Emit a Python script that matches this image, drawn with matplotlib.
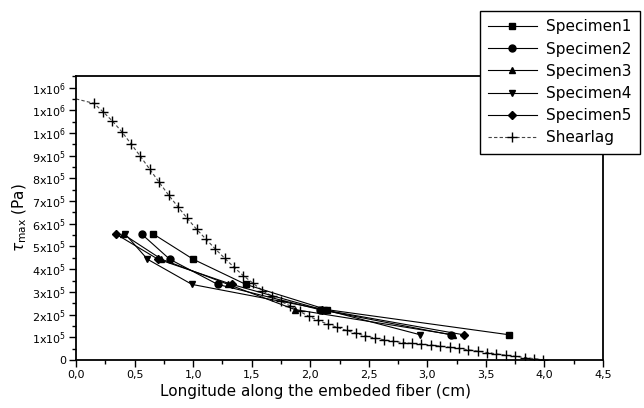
import matplotlib
matplotlib.use("Agg")
import matplotlib.pyplot as plt
from matplotlib.ticker import MultipleLocator, FixedLocator

# ---------------- data (stress in units of 1e5 Pa) ----------------
tau_levels = [5.55, 4.44, 3.33, 2.22, 1.11]

spec1_x = [0.66, 1.00, 1.45, 2.14, 3.70]
spec2_x = [0.56, 0.80, 1.21, 2.08, 3.20]
spec3_x = [0.40, 0.73, 1.30, 1.87, 3.22]
spec4_x = [0.42, 0.61, 0.99, 2.12, 2.94]
spec5_x = [0.34, 0.70, 1.33, 2.10, 3.31]

shear_x = [0.00, 0.15, 0.23, 0.31, 0.39, 0.47, 0.55, 0.63, 0.71, 0.79,
           0.87, 0.95, 1.03, 1.11, 1.19, 1.27, 1.35, 1.43, 1.51, 1.59,
           1.67, 1.75, 1.83, 1.91, 1.99, 2.07, 2.15, 2.23, 2.31, 2.39,
           2.47, 2.55, 2.63, 2.71, 2.79, 2.87, 2.95, 3.03, 3.11, 3.19,
           3.27, 3.35, 3.43, 3.51, 3.59, 3.67, 3.75, 3.83, 3.91, 3.99]
shear_y = [11.50, 11.31, 10.94, 10.53, 10.06, 9.52, 8.97, 8.40, 7.83, 7.27,
           6.75, 6.24, 5.76, 5.32, 4.89, 4.48, 4.08, 3.71, 3.39, 3.06,
           2.82, 2.58, 2.38, 2.14, 1.92, 1.74, 1.58, 1.44, 1.30, 1.18,
           1.06, 0.97, 0.89, 0.82, 0.77, 0.73, 0.70, 0.66, 0.61, 0.56,
           0.51, 0.45, 0.39, 0.33, 0.27, 0.21, 0.16, 0.11, 0.06, 0.01]

x_ticks = [0.0, 0.5, 1.0, 1.5, 2.0, 2.5, 3.0, 3.5, 4.0, 4.5]
x_tick_labels = ["0,0", "0,5", "1,0", "1,5", "2,0", "2,5", "3,0", "3,5", "4,0", "4,5"]
y_ticks = [0, 1, 2, 3, 4, 5, 6, 7, 8, 9, 10, 11, 12]
y_tick_labels = ["0"] + [f"{m}x10$^{{5}}$" for m in range(1, 10)] + ["1x10$^{6}$"] * 3

series = [
    ("Specimen1", spec1_x, "s"),
    ("Specimen2", spec2_x, "o"),
    ("Specimen3", spec3_x, "^"),
    ("Specimen4", spec4_x, "v"),
    ("Specimen5", spec5_x, "D"),
]

# ---------------- figure ----------------
plt.rcParams["font.family"] = ["DejaVu Sans"]
fig = plt.figure(figsize=(6.44, 4.08), dpi=100)
ax = fig.add_axes([76 / 644, 1 - 360 / 408, (603 - 76) / 644, (360 - 76) / 408])

handles = []
for name, xs, mk in series:
    ms = 5.0 if mk != "D" else 4.2
    h, = ax.plot(xs, tau_levels, color="black", lw=0.8, marker=mk, ms=ms,
                 mfc="black", mec="black", label=name, clip_on=False, zorder=3)
    handles.append(h)

h, = ax.plot(shear_x, shear_y, color="#444444", lw=0.8, ls=(0, (3, 2)),
             marker="+", ms=7, mec="black", mew=1.0, label="Shearlag",
             markevery=list(range(1, len(shear_x))), zorder=2)
handles.append(h)

ax.set_xlim(0, 4.5)
ax.set_ylim(0, 12.51)
ax.xaxis.set_major_locator(FixedLocator(x_ticks))
ax.set_xticklabels(x_tick_labels)
ax.xaxis.set_minor_locator(MultipleLocator(0.25))
ax.yaxis.set_major_locator(FixedLocator(y_ticks))
ax.set_yticklabels(y_tick_labels)
ax.yaxis.set_minor_locator(MultipleLocator(0.5))

ax.tick_params(which="both", direction="out", top=False, right=False,
               width=1.0, labelsize=8, colors="black")
ax.tick_params(which="major", length=5, pad=2)
ax.tick_params(which="minor", length=3)
for sp in ax.spines.values():
    sp.set_linewidth(1.3)

ax.set_xlabel("Longitude along the embeded fiber (cm)", fontsize=11, labelpad=4)
ax.xaxis.set_label_coords((315 - 76) / 527, -0.085)
ax.set_ylabel(r"$\tau_{\rm max}$ (Pa)", fontsize=11, labelpad=2)

leg = fig.legend(handles=handles, loc="upper right",
                 bbox_to_anchor=(640 / 644, 1 - 11 / 408),
                 fontsize=11, frameon=True, fancybox=False, edgecolor="black",
                 framealpha=1.0, handlelength=3.2, handletextpad=0.6,
                 labelspacing=0.47, borderpad=0.55, borderaxespad=0.0)
leg.get_frame().set_linewidth(1.0)

fig.savefig("out.png", dpi=100)
